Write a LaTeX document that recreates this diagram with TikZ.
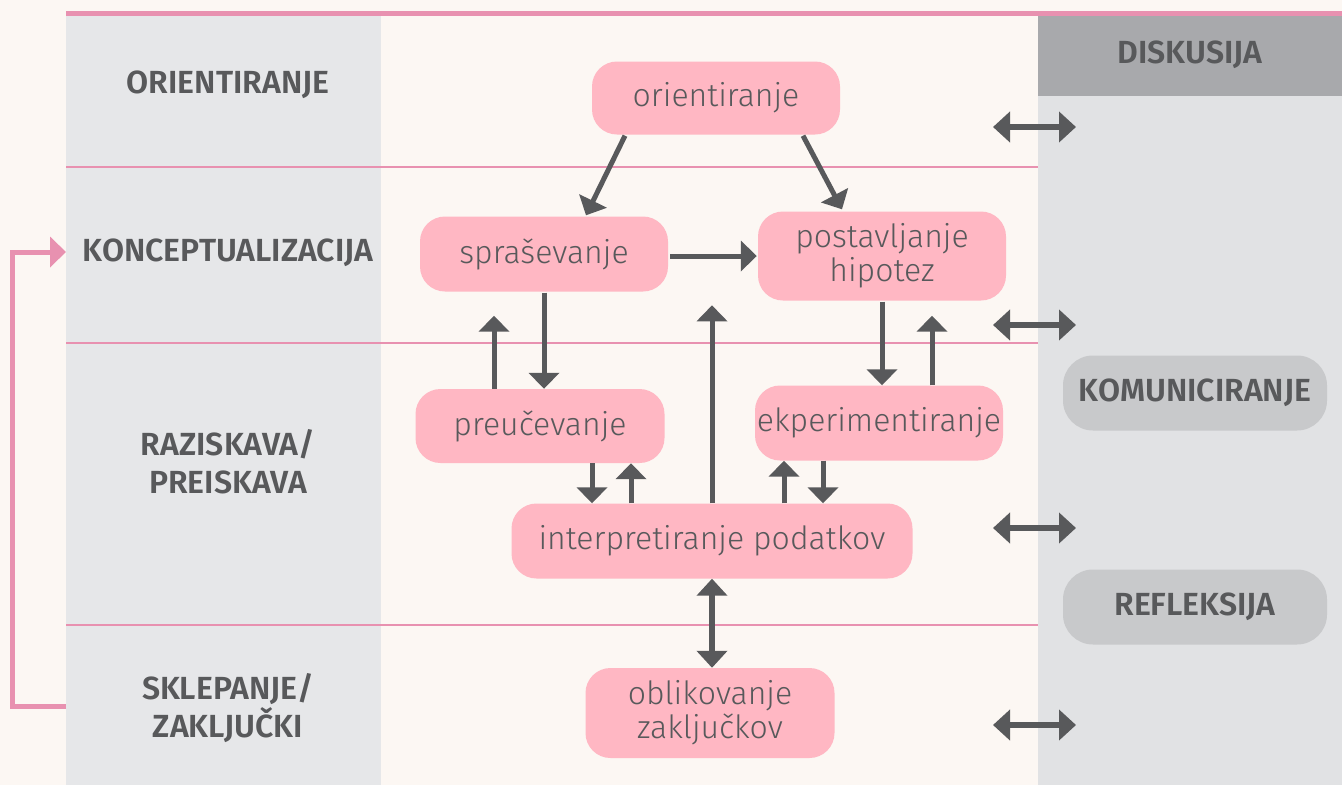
\documentclass[tikz,border=0pt]{standalone}
\usepackage{fontspec}
\setmainfont{Fira Sans}
\newfontfamily\nodefont{Fira Sans Light}
\newfontfamily\labfont{Fira Sans SemiBold}
\usetikzlibrary{arrows.meta,calc}
\definecolor{bgcream}{HTML}{FCF7F3}
\definecolor{colgray}{HTML}{E6E7E9}
\definecolor{rightgray}{HTML}{E1E2E4}
\definecolor{headgray}{HTML}{A8A9AC}
\definecolor{pillgray}{HTML}{C8C9CB}
\definecolor{pinkfill}{HTML}{FFB7C3}
\definecolor{pinkline}{HTML}{E891B0}
\definecolor{darktext}{HTML}{58595B}
\tikzset{
  stage/.style={draw=none, fill=pinkfill, rounded corners=25pt, text=darktext,
    font=\nodefont\fontsize{32}{34}\selectfont, align=center, inner sep=0pt},
  lab/.style={text=darktext, font=\labfont\fontsize{32}{38}\selectfont, align=center},
  pill/.style={fill=pillgray, rounded corners=30pt, minimum width=264pt, minimum height=75pt,
    text=darktext, font=\labfont\fontsize{32}{36}\selectfont, inner sep=0pt},
  arr/.style={draw=darktext, line width=5pt, -{Triangle[width=30pt,length=16pt]}},
  darr/.style={draw=darktext, line width=6pt, {Triangle[width=30pt,length=17pt]}-{Triangle[width=30pt,length=17pt]}},
  sepline/.style={draw=pinkline, line width=2pt},
  back/.style={draw=pinkline, line width=5pt, -{Triangle[width=30pt,length=16pt]}}
}
\begin{document}
\begin{tikzpicture}[x=1pt,y=-1pt]
\useasboundingbox (0,0) rectangle (1342,785);
\fill[bgcream] (0,0) rectangle (1342,785);
% columns
\fill[colgray] (66,16) rectangle (381,785);
\fill[rightgray] (1038,16) rectangle (1342,785);
\fill[headgray] (1038,16) rectangle (1342,96);
% top pink line
\fill[pinkline] (66,10.5) rectangle (1342,16);
% separator lines
\draw[sepline] (66,167) -- (1038,167);
\draw[sepline] (66,343) -- (1038,343);
\draw[sepline] (66,625) -- (1038,625);

% left labels
\node[lab] (lor) at (228,85) {ORIENTIRANJE};
\node[lab] (lko) at (228,253) {KONCEPTUALIZACIJA};
\node[lab] (lra) at (228,462) {RAZISKAVA/\\PREISKAVA};
\node[lab] (lsk) at (228,708) {SKLEPANJE/\\ZAKLJUČKI};

% right
\node[lab] (ldi) at (1190,55) {DISKUSIJA};
\node[pill] (kom) at (1195,393) {KOMUNICIRANJE};
\node[pill] (ref) at (1195,607) {REFLEKSIJA};

% stage nodes
\node[stage, minimum width=248pt, minimum height=73pt] (ori) at (716,98) {orientiranje};
\node[stage, minimum width=248pt, minimum height=75pt] (spr) at (544,254) {spraševanje};
\node[stage, minimum width=248pt, minimum height=89pt] (pos) at (882,256) {postavljanje\\hipotez};
\node[stage, minimum width=249pt, minimum height=74pt] (pre) at (540,426) {preučevanje};
\node[stage, minimum width=248pt, minimum height=75pt] (ekp) at (879,423) {ekperimentiranje};
\node[stage, minimum width=401pt, minimum height=75pt] (int) at (712,541) {interpretiranje podatkov};
\node[stage, minimum width=249pt, minimum height=90pt] (obl) at (710,713) {oblikovanje\\zaključkov};

% connectors
\draw[arr] ($(ori.south)+(-91,1)$) -- ($(spr.north)+(42,-1)$);
\draw[arr] ($(ori.south)+(87,1)$) -- ($(pos.north)+(-40,-2)$);
\draw[arr] ($(spr.east)+(2,2)$) -- ($(pos.west)+(-1,0)$);
\draw[arr] ($(spr.south)+(0,1)$) -- ($(pre.north)+(4,0)$);
\coordinate (preup) at ($(spr.south)+(-50,24)$);
\draw[arr] ($(pre.north)+(-46,0)$) -- (preup);
\coordinate (intup) at ($(int.north)+(0,-198)$);
\draw[arr] (int.north) -- (intup);
\draw[arr] ($(pos.south)+(0,1)$) -- ($(ekp.north)+(3,0)$);
\coordinate (ekpup) at ($(pos.south)+(50,15)$);
\draw[arr] ($(ekp.north)+(53,0)$) -- (ekpup);
\draw[arr] ($(pre.south)+(52,0)$) -- ($(int.north)+(-120,0)$);
\draw[arr] ($(int.north)+(-81,0)$) -- ($(pre.south)+(91,0)$);
\draw[arr] ($(int.north)+(72,0)$) -- ($(ekp.south)+(-95,0)$);
\draw[arr] ($(ekp.south)+(-56,0)$) -- ($(int.north)+(111,0)$);
\draw[darr] (int.south) -- ($(obl.north)+(2,0)$);

% right double arrows
\coordinate (d1a) at (993,127); \coordinate (d1b) at (1076,127);
\coordinate (d2a) at (993,325); \coordinate (d2b) at (1076,325);
\coordinate (d3a) at (993,528); \coordinate (d3b) at (1076,528);
\coordinate (d4a) at (993,725); \coordinate (d4b) at (1076,725);
\draw[darr] (d1a) -- (d1b);
\draw[darr] (d2a) -- (d2b);
\draw[darr] (d3a) -- (d3b);
\draw[darr] (d4a) -- (d4b);

% feedback arrow
\coordinate (fbs) at (66,706);
\coordinate (fbe) at (66,252);
\draw[back] (fbs) -- (12,706) -- (12,252) -- (fbe);
\end{tikzpicture}
\end{document}
